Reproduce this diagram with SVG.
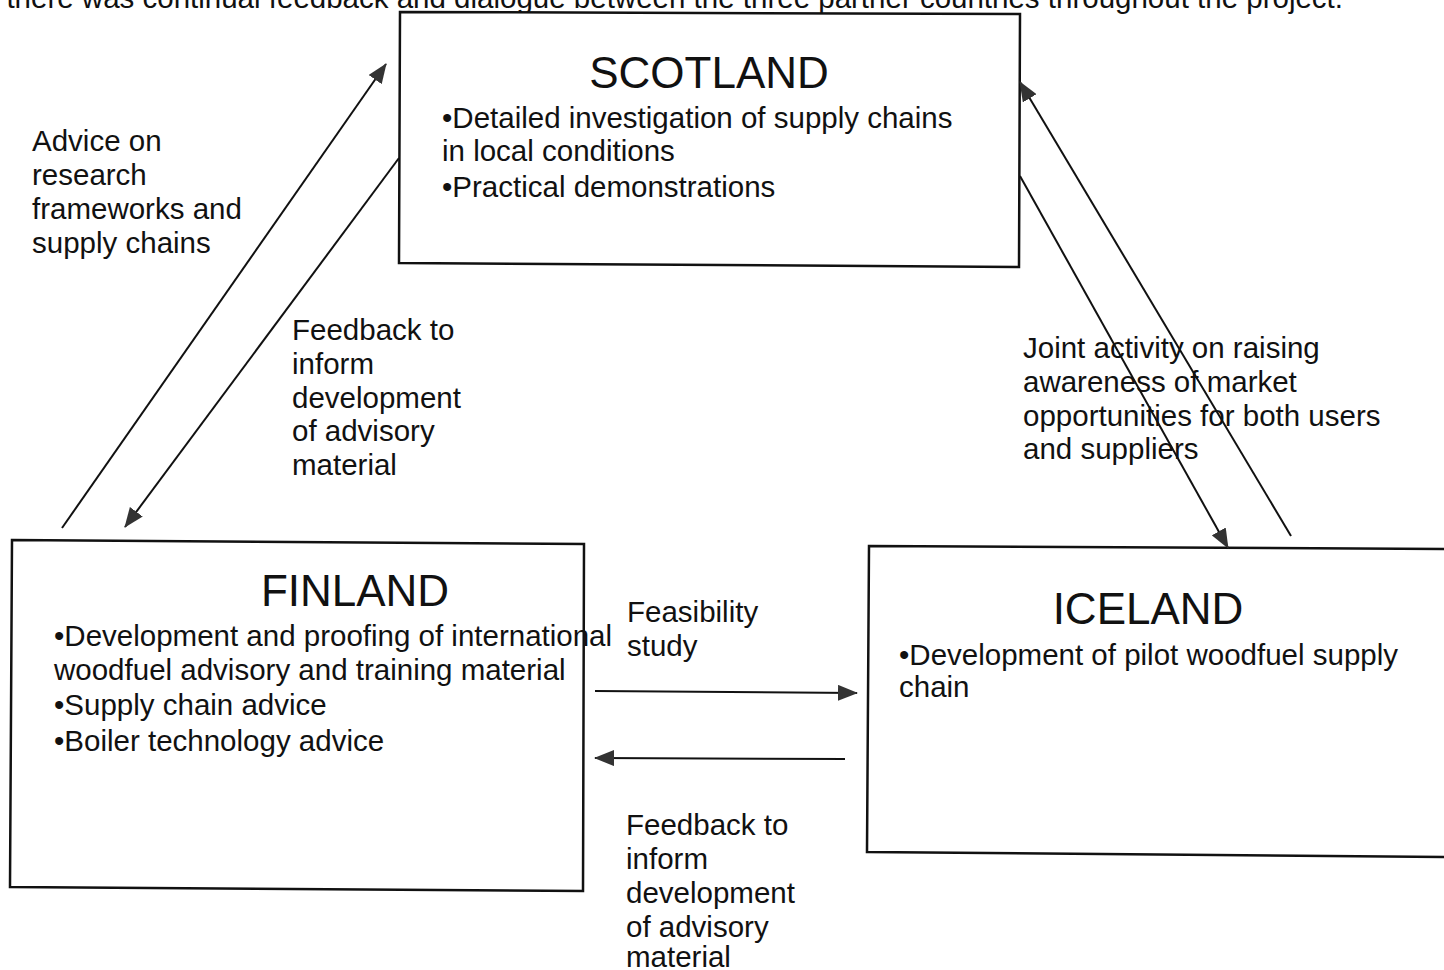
<svg xmlns="http://www.w3.org/2000/svg" width="1444" height="970" viewBox="0 0 1444 970">
<style>
text{font-family:"Liberation Sans",Arial,sans-serif;fill:#111;font-size:29.5px}
.t{font-size:44px;text-anchor:middle}
.box{fill:#fff;stroke:#111;stroke-width:2.5}
.c{stroke:#111;stroke-width:2;fill:none}
</style>
<defs>
<marker id="a" viewBox="0 0 20 16" refX="19" refY="8" markerWidth="20" markerHeight="16" markerUnits="userSpaceOnUse" orient="auto">
<path d="M0,0 L20,8 L0,16 Z" fill="#333"/>
</marker>
</defs>
<rect width="1444" height="970" fill="#fff"/>
<text x="1343" y="8" text-anchor="end">there was continual feedback and dialogue between the three partner countries throughout the project.</text>
<g id="scotland">
<polygon class="box" points="400,12 1020,14 1019,267 399,263"/>
<text class="t" x="709" y="88">SCOTLAND</text>
<text x="442" y="128">•Detailed investigation of supply chains</text>
<text x="442" y="161">in local conditions</text>
<text x="442" y="197">•Practical demonstrations</text>
</g>
<g id="finland">
<polygon class="box" points="12,540 584,544 583,891 10,887"/>
<text class="t" x="355" y="606">FINLAND</text>
<text x="54" y="646">•Development and proofing of international</text>
<text x="54" y="680">woodfuel advisory and training material</text>
<text x="54" y="715">•Supply chain advice</text>
<text x="54" y="751">•Boiler technology advice</text>
</g>
<g id="iceland">
<polygon class="box" points="869,546 1450,549 1450,857 867,852"/>
<text class="t" x="1148" y="624">ICELAND</text>
<text x="899" y="665">•Development of pilot woodfuel supply</text>
<text x="899" y="697">chain</text>
</g>
<g id="connectors">
<line class="c" x1="62" y1="528" x2="386" y2="64" marker-end="url(#a)"/>
<line class="c" x1="399" y1="158" x2="125" y2="527" marker-end="url(#a)"/>
<line class="c" x1="1020" y1="176" x2="1228" y2="548" marker-end="url(#a)"/>
<line class="c" x1="1291" y1="536" x2="1020" y2="82" marker-end="url(#a)"/>
<line class="c" x1="595" y1="691" x2="857" y2="693" marker-end="url(#a)"/>
<line class="c" x1="845" y1="759" x2="595" y2="758" marker-end="url(#a)"/>
</g>
<g id="labels">
<text x="32" y="151">Advice on</text>
<text x="32" y="185">research</text>
<text x="32" y="219">frameworks and</text>
<text x="32" y="253">supply chains</text>
<text x="292" y="340">Feedback to</text>
<text x="292" y="374">inform</text>
<text x="292" y="408">development</text>
<text x="292" y="441">of advisory</text>
<text x="292" y="475">material</text>
<text x="1023" y="358">Joint activity on raising</text>
<text x="1023" y="392">awareness of market</text>
<text x="1023" y="426">opportunities for both users</text>
<text x="1023" y="459">and suppliers</text>
<text x="627" y="622">Feasibility</text>
<text x="627" y="656">study</text>
<text x="626" y="835">Feedback to</text>
<text x="626" y="869">inform</text>
<text x="626" y="903">development</text>
<text x="626" y="937">of advisory</text>
<text x="626" y="967">material</text>
</g>
</svg>
